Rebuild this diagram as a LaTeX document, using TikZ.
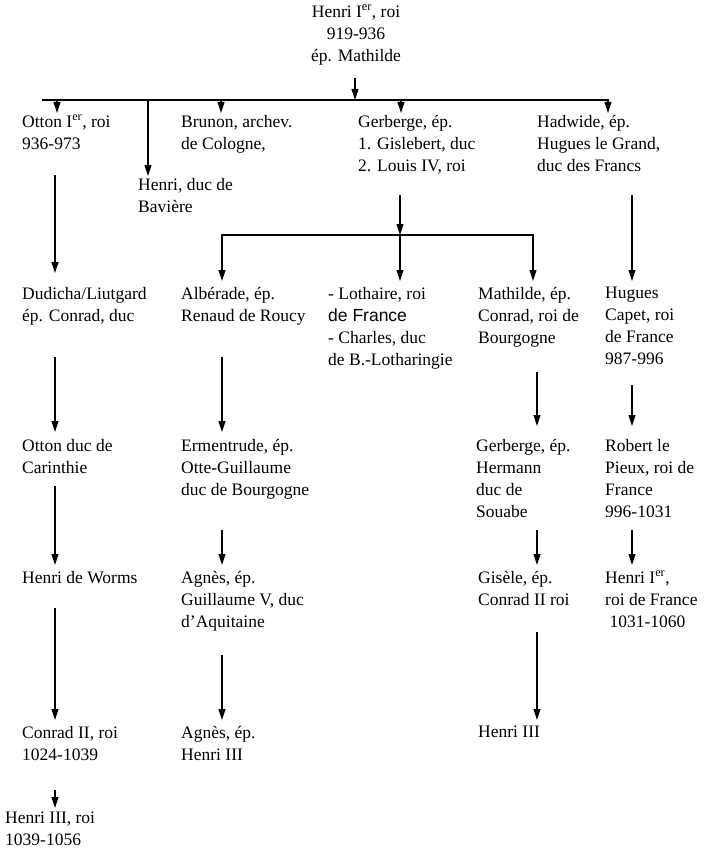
\documentclass[tikz,border=0pt]{standalone}
\usepackage{fontspec}
\setmainfont{Liberation Serif}
\newfontfamily\sansf{Liberation Sans}
\usetikzlibrary{arrows.meta}
\begin{document}
\begin{tikzpicture}[x=1pt,y=-1pt,
  t/.style={anchor=north west,inner sep=0pt,align=left,font=\fontsize{17.5}{22}\selectfont},
  ar/.style={draw,line width=1.1pt,-{Triangle[length=11pt,width=7pt]}},
  ln/.style={draw,line width=1.1pt}]
\useasboundingbox (0,0) rectangle (709,856);
\node[t,align=center,anchor=north] (root) at (356,5) {Henri I\textsuperscript{er}, roi\\919-936\\ép. Mathilde};
\node[t] (otton) at (22,115) {Otton I\textsuperscript{er}, roi\\936-973};
\node[t] (henri) at (138,178) {Henri, duc de\\Bavière};
\node[t] (brunon) at (181,115) {Brunon, archev.\\de Cologne,};
\node[t] (gerb) at (358,115) {Gerberge, ép.\\1. Gislebert, duc\\2. Louis IV, roi};
\node[t] (hadw) at (537,115) {Hadwide, ép.\\Hugues le Grand,\\duc des Francs};
\node[t] (dud) at (22,287) {Dudicha/Liutgard\\ép. Conrad, duc};
\node[t] (alb) at (181,287) {Albérade, ép.\\Renaud de Roucy};
\node[t] (loth) at (328,287) {- Lothaire, roi\\{\sansf de France}\\- Charles, duc\\de B.-Lotharingie};
\node[t] (math) at (478,287) {Mathilde, ép.\\Conrad, roi de\\Bourgogne};
\node[t] (hug) at (605,287) {Hugues\\Capet, roi\\de France\\987-996};
\node[t] (ottc) at (22,439) {Otton duc de\\Carinthie};
\node[t] (erm) at (181,439) {Ermentrude, ép.\\Otte-Guillaume\\duc de Bourgogne};
\node[t] (gerb2) at (476,439) {Gerberge, ép.\\Hermann\\duc de\\Souabe};
\node[t] (rob) at (605,439) {Robert le\\Pieux, roi de\\France\\996-1031};
\node[t] (worms) at (22,571) {Henri de Worms};
\node[t] (agn) at (181,571) {Agnès, ép.\\Guillaume V, duc\\d'Aquitaine};
\node[t] (gis) at (478,571) {Gisèle, ép.\\Conrad II roi};
\node[t] (hen1) at (605,571) {Henri I\textsuperscript{er},\\roi de France\\\ 1031-1060};
\node[t] (conr) at (22,726) {Conrad II, roi\\1024-1039};
\node[t] (agn2) at (181,726) {Agnès, ép.\\Henri III};
\node[t] (h3) at (478,726) {Henri III};
\node[t] (h3r) at (5,812) {Henri III, roi\\1039-1056};
% top bar
\draw[ln] (42,100) -- (608,100);
\draw[ar] (355,78) -- (355,100);
\foreach \x in {57,221,401,608} \draw[ar] (\x,99) -- (\x,113);
\draw[ar] (148,99) -- (148,176);
% second bar
\draw[ar] (400,195) -- (400,235);
\draw[ln] (222,235) -- (533,235);
\foreach \x in {222,400,533} \draw[ar] (\x,234) -- (\x,281);
\draw[ar] (55,175) -- (55,273);
\draw[ar] (632,195) -- (632,281);
% level 2->3
\draw[ar] (55,357) -- (55,432);
\draw[ar] (222,357) -- (222,432);
\draw[ar] (537,372) -- (537,426);
\draw[ar] (632,385) -- (632,426);
% level 3->4
\draw[ar] (55,486) -- (55,565);
\draw[ar] (222,530) -- (222,565);
\draw[ar] (537,530) -- (537,565);
\draw[ar] (632,530) -- (632,565);
% level 4->5
\draw[ar] (55,608) -- (55,720);
\draw[ar] (222,655) -- (222,720);
\draw[ar] (537,632) -- (537,720);
\draw[ar] (55,790) -- (55,808);
\end{tikzpicture}
\end{document}
